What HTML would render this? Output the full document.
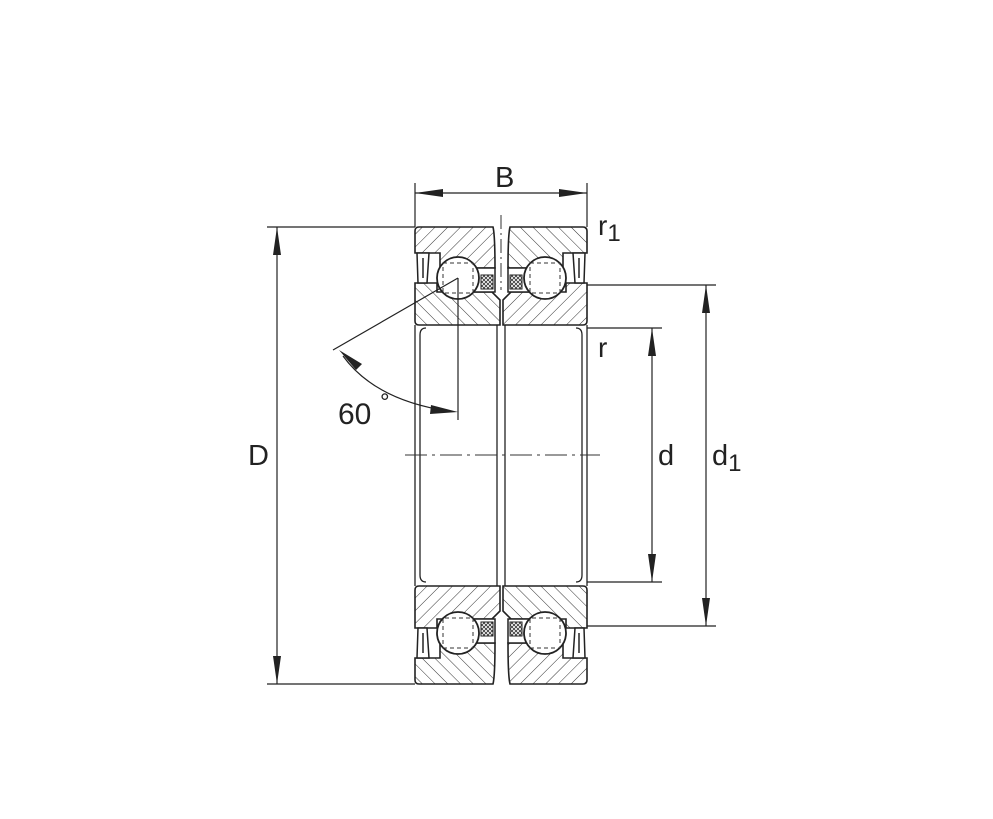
<!DOCTYPE html>
<html><head><style>body{margin:0;background:#fff}svg{display:block}text{font-family:"Liberation Sans",sans-serif;fill:#222}</style></head><body>
<svg width="993" height="819" viewBox="0 0 993 819" xmlns="http://www.w3.org/2000/svg">
<defs>
<pattern id="hL" width="9" height="9" patternUnits="userSpaceOnUse" patternTransform="rotate(45)"><line x1="0" y1="0" x2="0" y2="9" stroke="#333" stroke-width="1"/></pattern>
<pattern id="hR" width="9" height="9" patternUnits="userSpaceOnUse" patternTransform="rotate(-45)"><line x1="0" y1="0" x2="0" y2="9" stroke="#333" stroke-width="1"/></pattern>
<pattern id="x" width="4" height="4" patternUnits="userSpaceOnUse"><path d="M0 0L4 4M4 0L0 4" stroke="#333" stroke-width="0.8"/></pattern>
<g id="half">
 <!-- outer ring -->
 <path d="M415 231Q415 227 419 227H493Q495 235 495 268H440V253H415Z" fill="url(#hL)" stroke="#222" stroke-width="1.6"/>
 <path d="M587 231Q587 227 583 227H510Q508 235 508 268H563V253H587Z" fill="url(#hR)" stroke="#222" stroke-width="1.6"/>
 <!-- inner ring -->
 <path d="M415 283H437V292H492L500 300V325H419Q415 325 415 321Z" fill="url(#hR)" stroke="#222" stroke-width="1.6"/>
 <path d="M587 283H566V292H511L503 300V325H583Q587 325 587 321Z" fill="url(#hL)" stroke="#222" stroke-width="1.6"/>
 <!-- cage -->
 <rect x="470" y="268" width="25" height="24" fill="#fff" stroke="#222" stroke-width="1.5"/>
 <rect x="481" y="275" width="12" height="14" fill="url(#x)" stroke="#222" stroke-width="1"/>
 <rect x="508" y="268" width="25" height="24" fill="#fff" stroke="#222" stroke-width="1.5"/>
 <rect x="510" y="275" width="12" height="14" fill="url(#x)" stroke="#222" stroke-width="1"/>
 <!-- balls -->
 <circle cx="458" cy="278" r="21" fill="#fff" stroke="#222" stroke-width="1.8"/>
 <circle cx="545" cy="278" r="21" fill="#fff" stroke="#222" stroke-width="1.8"/>
 <rect x="443" y="263" width="30" height="30" fill="none" stroke="#333" stroke-dasharray="4,3"/>
 <rect x="530" y="263" width="30" height="30" fill="none" stroke="#333" stroke-dasharray="4,3"/>
 <!-- seals -->
 <path d="M417 253H429L427 283H418Z" fill="#fff" stroke="#222" stroke-width="1.5"/>
 <path d="M585 253H573L575 283H584Z" fill="#fff" stroke="#222" stroke-width="1.5"/>
 <line x1="423" y1="258" x2="423" y2="278" stroke="#222" stroke-width="1.5"/>
 <line x1="579" y1="258" x2="579" y2="278" stroke="#222" stroke-width="1.5"/>
</g>
</defs>
<g fill="none" stroke="#222" stroke-width="1.3">
 <path d="M415 325V586 M420 335V575 M497 325V586 M505 325V586 M582 335V575 M587 325V586"/>
 <path d="M420 335Q420 328 426 328 M420 575Q420 582 426 582 M582 335Q582 328 576 328 M582 575Q582 582 576 582"/>
</g>
<use href="#half"/>
<use href="#half" transform="translate(0,911) scale(1,-1)"/>
<line x1="501" y1="215" x2="501" y2="290" stroke="#333" stroke-width="1" stroke-dasharray="14,4,2,4"/>
<line x1="405" y1="455" x2="600" y2="455" stroke="#333" stroke-width="1" stroke-dasharray="22,5,3,5"/>
<g stroke="#222" stroke-width="1.2" fill="none">
 <path d="M267 227H415 M267 684H415 M277 227V684"/>
 <path d="M415 183V227 M587 183V227 M415 193H587"/>
 <path d="M587 328H662 M587 582H662 M652 328V582"/>
 <path d="M587 285H716 M587 626H716 M706 285V626"/>
 <path d="M458 278L333 350 M458 278V420"/>
 <path d="M343 356Q375 400 448 411"/>
</g>
<g fill="#222">
 <path d="M277 227L273 255L281 255Z M277 684L273 656L281 656Z"/>
 <path d="M415 193L443 189L443 197Z M587 193L559 189L559 197Z"/>
 <path d="M652 328L648 356L656 356Z M652 582L648 554L656 554Z"/>
 <path d="M706 285L702 313L710 313Z M706 626L702 598L710 598Z"/>
 <path d="M458 412L431 405L430 414Z M339 350L356 370L362 364Z"/>
</g>
<text x="248" y="465" font-size="29">D</text>
<text x="495" y="187" font-size="29">B</text>
<text x="598" y="235" font-size="28">r<tspan font-size="24" dy="6">1</tspan></text>
<text x="598" y="357" font-size="28">r</text>
<text x="658" y="465" font-size="29">d</text>
<text x="712" y="465" font-size="29">d<tspan font-size="24" dy="6">1</tspan></text>
<text x="338" y="424" font-size="30">60</text>
<text x="380" y="410" font-size="24">°</text>
</svg>
</body></html>
